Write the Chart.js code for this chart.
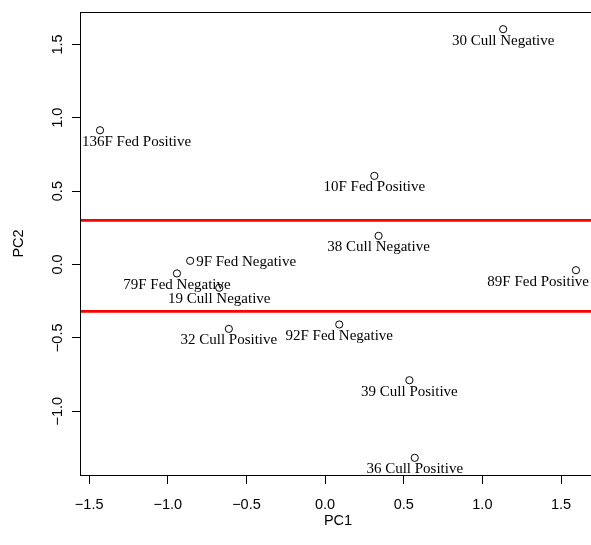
<!DOCTYPE html>
<html>
<head>
<meta charset="utf-8">
<script src="https://cdn.jsdelivr.net/npm/chart.js@4.4.0/dist/chart.umd.min.js"></script>
<style>
  html, body { margin: 0; padding: 0; background: #fff; overflow: hidden; }
  #wrap { width: 591px; height: 545px; overflow: hidden; }
</style>
</head>
<body>
<div id="wrap"><canvas id="c" width="600" height="545"></canvas></div>
<script>
// ---- data ----
const sampleNames = ['30 Cull Negative', '136F Fed Positive', '10F Fed Positive', '38 Cull Negative',
  '9F Fed Negative', '79F Fed Negative', '19 Cull Negative', '89F Fed Positive',
  '32 Cull Positive', '92F Fed Negative', '39 Cull Positive', '36 Cull Positive'];
const pc1 = [1.132, -1.431, 0.313, 0.340, -0.858, -0.942, -0.673, 1.595, -0.612, 0.090, 0.536, 0.570];
const pc2 = [1.604, 0.915, 0.604, 0.195, 0.025, -0.061, -0.159, -0.039, -0.439, -0.409, -0.789, -1.318];
const cutoffLines = [0.30, -0.32];
const xTicks = [-1.5, -1.0, -0.5, 0.0, 0.5, 1.0, 1.5];
const xTickLabels = ['\u22121.5', '\u22121.0', '\u22120.5', '0.0', '0.5', '1.0', '1.5'];
const yTicks = [-1.0, -0.5, 0.0, 0.5, 1.0, 1.5];
const yTickLabels = ['\u22121.0', '\u22120.5', '0.0', '0.5', '1.0', '1.5'];

// label placement style (right of point instead of below)
const labelRight = { '9F Fed Negative': true };

const X_MIN = -1.552, X_MAX = 1.716, Y_MIN = -1.435, Y_MAX = 1.721;
const SANS = '"Liberation Sans", Arial, sans-serif';
const SERIF = '"Liberation Serif", "Times New Roman", serif';

const points = pc1.map((x, i) => ({ x: x, y: pc2[i] }));
const lineSets = cutoffLines.map(v => ({
  type: 'line',
  data: [{ x: X_MIN, y: v }, { x: X_MAX, y: v }],
  borderColor: '#ff0000',
  borderWidth: 2.7,
  pointRadius: 0,
  fill: false,
  order: 1
}));

const boxAndLabels = {
  id: 'boxAndLabels',
  afterDatasetsDraw(chart) {
    const { ctx, chartArea: a, scales } = chart;
    // point labels, clipped to plot region
    ctx.save();
    ctx.beginPath();
    ctx.rect(a.left, a.top, a.right - a.left, a.bottom - a.top);
    ctx.clip();
    ctx.font = '15px ' + SERIF;
    ctx.fillStyle = '#000';
    ctx.textBaseline = 'alphabetic';
    sampleNames.forEach((name, i) => {
      const px = scales.x.getPixelForValue(pc1[i]);
      const py = scales.y.getPixelForValue(pc2[i]);
      const w = ctx.measureText(name).width;
      if (labelRight[name]) {
        ctx.textAlign = 'left';
        ctx.fillText(name, px + 6, py + 5.5);
      } else {
        let left = px - w / 2;
        if (left < a.left + 1) left = a.left + 1;
        if (left + w > a.right - 6) left = a.right - 6 - w;
        ctx.textAlign = 'left';
        ctx.fillText(name, left, py + 15.5);
      }
    });
    ctx.restore();

    // box
    ctx.save();
    ctx.strokeStyle = '#000';
    ctx.lineWidth = 1;
    ctx.strokeRect(Math.round(a.left) - 0.5, Math.round(a.top) + 0.5,
      Math.round(a.right - a.left) + 1, Math.round(a.bottom - a.top));
    ctx.restore();

    // y tick labels (rotated, R style)
    ctx.save();
    ctx.font = '14.5px ' + SANS;
    ctx.fillStyle = '#000';
    ctx.textAlign = 'center';
    ctx.textBaseline = 'alphabetic';
    yTicks.forEach((v, i) => {
      const py = scales.y.getPixelForValue(v);
      ctx.save();
      ctx.translate(a.left - 19, py);
      ctx.rotate(-Math.PI / 2);
      ctx.fillText(yTickLabels[i], 0, 0);
      ctx.restore();
    });
    ctx.restore();
  }
};

new Chart(document.getElementById('c'), {
  type: 'scatter',
  data: {
    datasets: [{
      type: 'scatter',
      data: points,
      pointStyle: 'circle',
      pointRadius: 3.6,
      borderColor: '#000',
      borderWidth: 1,
      backgroundColor: 'rgba(0,0,0,0)',
      order: 0
    }].concat(lineSets)
  },
  options: {
    responsive: false,
    animation: false,
    devicePixelRatio: 1,
    layout: { padding: { top: 12, right: 2, left: 0, bottom: 0 } },
    plugins: { legend: { display: false }, tooltip: { enabled: false } },
    scales: {
      x: {
        type: 'linear',
        min: X_MIN, max: X_MAX,
        afterFit(s) { s.height = 70; },
        afterBuildTicks(s) { s.ticks = xTicks.map(v => ({ value: v })); },
        grid: { drawOnChartArea: false, drawTicks: true, tickLength: 9, color: '#000', tickColor: '#000', lineWidth: 1 },
        border: { display: false },
        ticks: {
          color: '#000',
          font: { family: SANS, size: 14.5 },
          padding: 12,
          maxRotation: 0,
          callback: (v, i) => xTickLabels[i]
        },
        title: { display: true, text: 'PC1', color: '#000', font: { family: SANS, size: 14.5 }, padding: { top: 0, bottom: 15 } }
      },
      y: {
        type: 'linear',
        min: Y_MIN, max: Y_MAX,
        afterFit(s) { s.width = 81; },
        afterBuildTicks(s) { s.ticks = yTicks.map(v => ({ value: v })); },
        grid: { drawOnChartArea: false, drawTicks: true, tickLength: 9, color: '#000', tickColor: '#000', lineWidth: 1 },
        border: { display: false },
        ticks: { display: false },
        title: { display: true, text: 'PC2', color: '#000', font: { family: SANS, size: 14.5 }, padding: { top: 10, bottom: 0 } }
      }
    }
  },
  plugins: [boxAndLabels]
});
</script>
</body>
</html>
